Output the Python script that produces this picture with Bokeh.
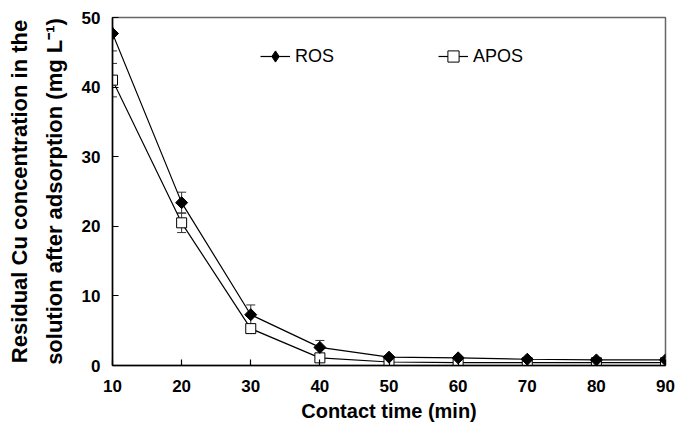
import math
from bokeh.plotting import figure
from bokeh.models import (Whisker, TeeHead, ColumnDataSource, Legend, LegendItem, Range1d,
                          FixedTicker, CDSView, IndexFilter)
from bokeh.embed import file_html
from bokeh.resources import INLINE

time_min = [10, 20, 30, 40, 50, 60, 70, 80, 90]
ros = [47.7, 23.4, 7.3, 2.6, 1.2, 1.1, 0.9, 0.8, 0.8]
ros_err = [2.5, 1.5, 1.4, 1.0, 0.2, 0.2, 0.2, 0.2, 0.2]
apos = [41.0, 20.5, 5.3, 1.1, 0.5, 0.4, 0.4, 0.4, 0.4]
apos_err = [2.4, 1.4, 0.6, 0.5, 0.2, 0.2, 0.2, 0.2, 0.2]
x_ticks = [10, 20, 30, 40, 50, 60, 70, 80, 90]
y_ticks = [0, 10, 20, 30, 40, 50]

FONT = "Liberation Sans"

p = figure(width=678, height=429, output_backend="svg", toolbar_location=None,
           x_range=Range1d(10, 90), y_range=Range1d(0, 50),
           min_border_left=112, min_border_right=13, min_border_top=17, min_border_bottom=64)
p.grid.visible = False
p.outline_line_color = "#666666"
p.outline_line_width = 1.5
p.background_fill_color = "white"
p.border_fill_color = "white"

src_r = ColumnDataSource(dict(x=time_min, y=ros,
                              lo=[v - e for v, e in zip(ros, ros_err)],
                              hi=[v + e for v, e in zip(ros, ros_err)]))
src_a = ColumnDataSource(dict(x=time_min, y=apos,
                              lo=[v - e for v, e in zip(apos, apos_err)],
                              hi=[v + e for v, e in zip(apos, apos_err)]))

for src in (src_r, src_a):
    w = Whisker(source=src, base="x", lower="lo", upper="hi", line_color="#333333", line_width=1,
                upper_head=TeeHead(size=9, line_color="#333333", line_width=1),
                lower_head=TeeHead(size=9, line_color="#333333", line_width=1))
    p.add_layout(w)

lr = p.line("x", "y", source=src_r, line_color="black", line_width=1.2)
la = p.line("x", "y", source=src_a, line_color="black", line_width=1.2)
sa = p.scatter("x", "y", source=src_a, marker="square", size=10, fill_color="white",
               line_color="black", line_width=1)
# diamond glyph used for the legend entry (hidden beneath the first rotated square)
sr_leg = p.scatter("x", "y", source=src_r, view=CDSView(filter=IndexFilter(indices=[0])),
                   marker="diamond", size=13, fill_color="black", line_color="black")
sr = p.scatter("x", "y", source=src_r, marker="square", size=8.5, angle=math.pi / 4,
               fill_color="black", line_color="black")

for ax in (p.xaxis[0], p.yaxis[0]):
    ax.axis_line_color = "black"
    ax.axis_line_width = 1.5
    ax.major_tick_line_color = "black"
    ax.major_tick_line_width = 1.2
    ax.major_tick_in = 6
    ax.major_tick_out = 0
    ax.minor_tick_line_color = None
    ax.major_label_text_font = FONT
    ax.major_label_text_font_style = "bold"
    ax.major_label_text_font_size = "17px"
    ax.major_label_text_color = "black"
    ax.axis_label_text_font = FONT
    ax.axis_label_text_font_style = "bold"
    ax.axis_label_text_color = "black"

p.xaxis.ticker = FixedTicker(ticks=x_ticks)
p.yaxis.ticker = FixedTicker(ticks=y_ticks)
p.xaxis.major_label_standoff = 14
p.yaxis.major_label_standoff = 12
p.xaxis.axis_label = "Contact time (min)"
p.xaxis.axis_label_text_font_size = "20px"
p.xaxis.axis_label_standoff = 5
p.yaxis.axis_label = "Residual Cu concentration in the\nsolution after adsorption (mg L\u207b\u00b9)"
p.yaxis.axis_label_text_font_size = "22px"
p.yaxis.axis_label_standoff = 12
p.yaxis.axis_label_text_line_height = 1.4

legend = Legend(items=[LegendItem(label="ROS", renderers=[lr, sr_leg]),
                       LegendItem(label="APOS", renderers=[la, sa])],
                orientation="horizontal", location=(148, 295),
                border_line_color=None, background_fill_alpha=0,
                glyph_width=30, glyph_height=28, label_standoff=5, spacing=104,
                padding=0, margin=0,
                label_text_font=FONT, label_text_font_size="18px", label_text_color="black")
p.add_layout(legend)

open("out.html", "w").write(file_html(p, INLINE))
